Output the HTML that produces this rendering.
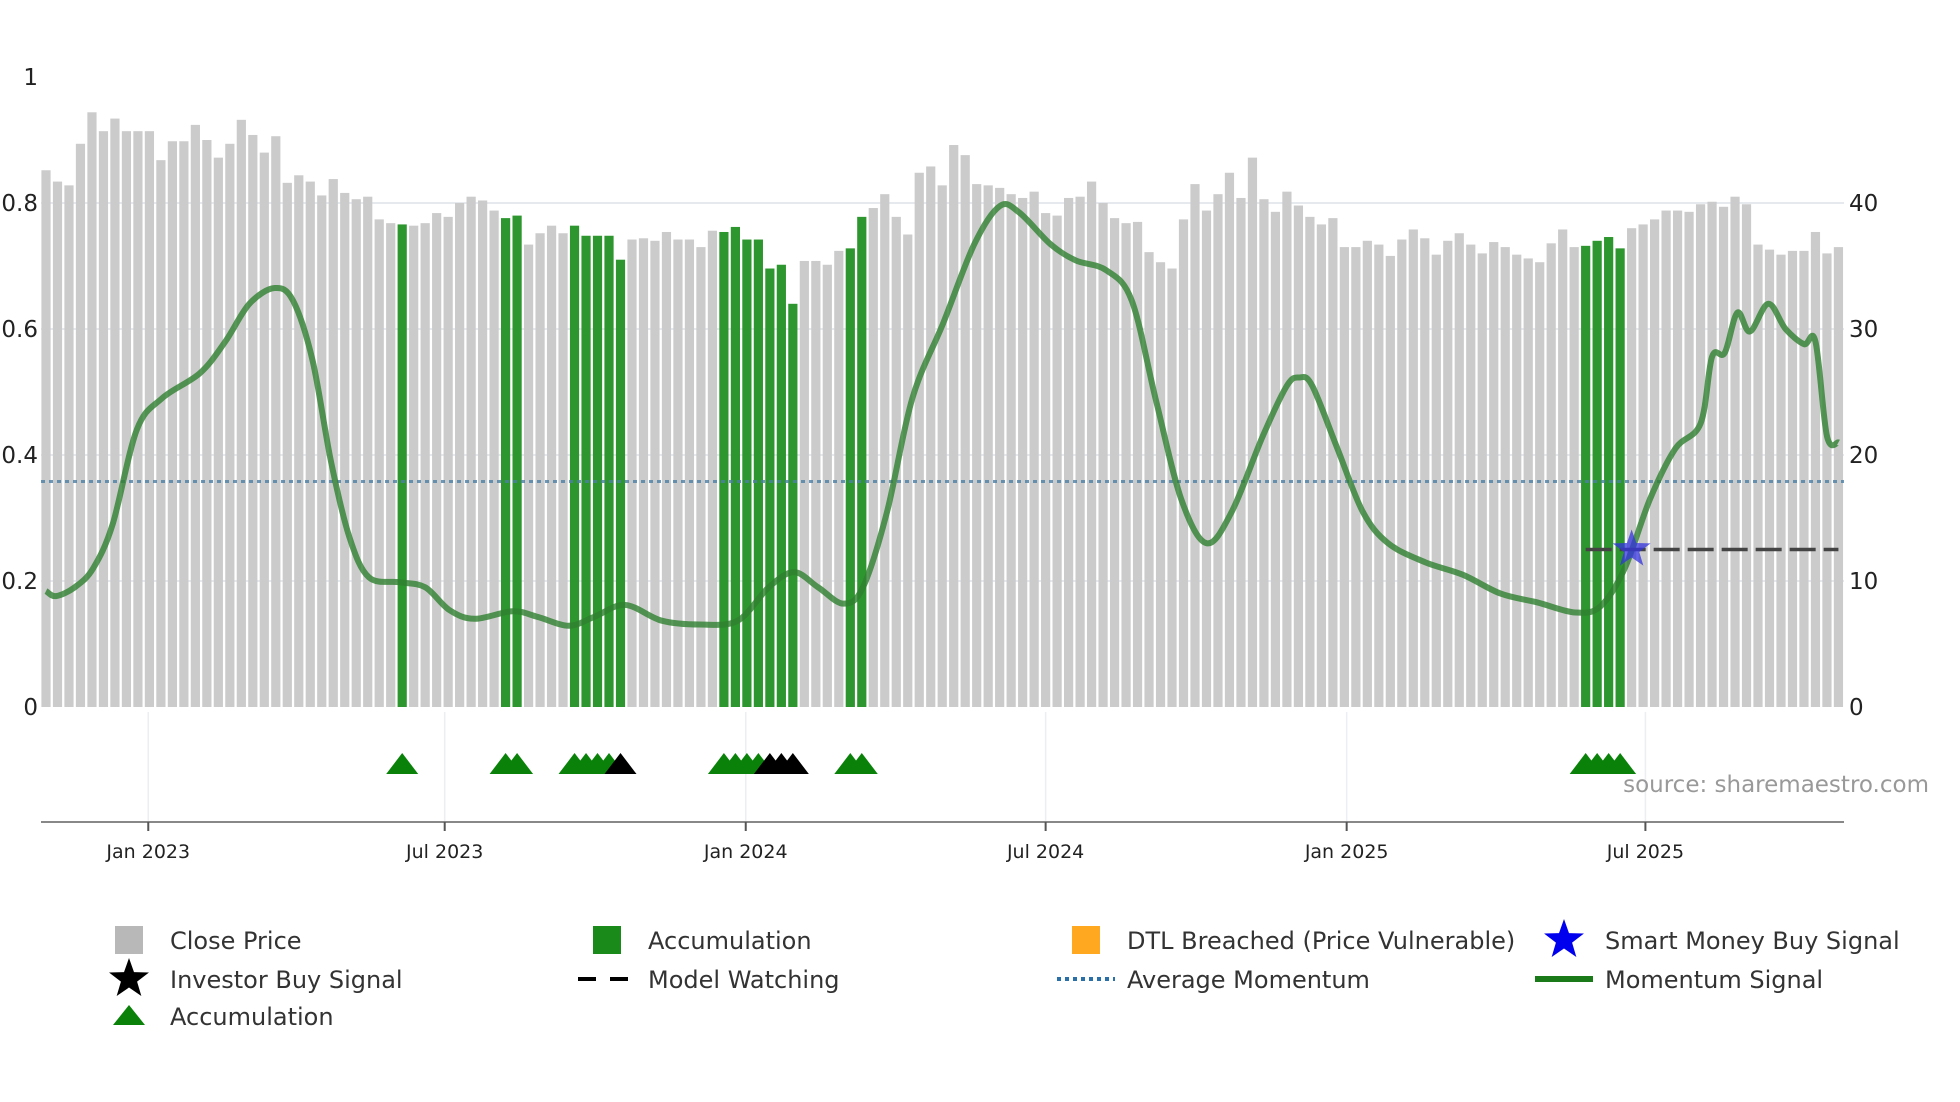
<!DOCTYPE html>
<html><head><meta charset="utf-8"><style>
html,body{margin:0;padding:0;background:#fff;width:1960px;height:1102px;overflow:hidden}
svg text{font-family:"DejaVu Sans","Liberation Sans",sans-serif}
</style></head><body>
<svg id="chart" width="1960" height="1102" viewBox="0 0 1960 1102" xmlns="http://www.w3.org/2000/svg">
<g id="grid"></g>
<g id="bars"></g>
<g id="lines"></g>
<g id="axes"></g>
<g id="markers"></g>
<text x="1929" y="792" text-anchor="end" font-size="23" fill="#999">source: sharemaestro.com</text>
<g id="legend"></g>
</svg>
<script>
const prices=[42.6,41.7,41.4,44.7,47.2,45.7,46.7,45.7,45.7,45.7,43.4,44.9,44.9,46.2,45,43.6,44.7,46.6,45.4,44,45.3,41.6,42.2,41.7,40.6,41.9,40.8,40.3,40.5,38.7,38.4,38.3,38.2,38.4,39.2,38.9,40,40.5,40.2,39.4,38.8,39,36.7,37.6,38.2,37.6,38.2,37.4,37.4,37.4,35.5,37.1,37.2,37,37.7,37.1,37.1,36.5,37.8,37.7,38.1,37.1,37.1,34.8,35.1,32,35.4,35.4,35.1,36.2,36.4,38.9,39.6,40.7,38.9,37.5,42.4,42.9,41.4,44.6,43.8,41.5,41.4,41.2,40.7,40.4,40.9,39.2,39,40.4,40.5,41.7,40,38.8,38.4,38.5,36.1,35.3,34.8,38.7,41.5,39.4,40.7,42.4,40.4,43.6,40.3,39.3,40.9,39.8,38.9,38.3,38.8,36.5,36.5,37,36.7,35.8,37.1,37.9,37.2,35.9,37,37.6,36.7,36,36.9,36.5,35.9,35.6,35.3,36.8,37.9,36.5,36.6,37,37.3,36.4,38,38.3,38.7,39.4,39.4,39.3,39.9,40.1,39.7,40.5,39.9,36.7,36.3,35.9,36.2,36.2,37.7,36,36.5];
const accumBars=[32,41,42,47,48,49,50,51,60,61,62,63,64,65,66,71,72,135,136,137,138];
const momIdx=[0,0.87,2.5,4.1,5.8,7.9,10.1,13.4,15.6,17.7,19.9,21.5,23.2,24.8,26.4,28.1,30.8,33,35.1,37.3,40.6,42.8,45.5,47.7,50.4,53.6,56.9,60.2,62.9,65.1,67.2,69.4,71.1,73.2,75.4,78.1,80.8,83,84.7,87.4,89.6,92.3,94.5,96.6,98.8,101,103.2,105.9,108,109.1,110.2,112.4,114.6,116.8,120,123.3,126.6,129.8,133.1,135.3,137.4,139.6,141.8,144,145,146.1,147.2,148.3,149.9,151.4,153,154,155,156];
const momVals=[0.184,0.176,0.19,0.22,0.29,0.44,0.49,0.53,0.58,0.64,0.665,0.645,0.55,0.39,0.27,0.206,0.198,0.19,0.154,0.14,0.152,0.143,0.129,0.143,0.162,0.137,0.131,0.137,0.19,0.214,0.19,0.164,0.19,0.31,0.49,0.61,0.735,0.795,0.785,0.735,0.709,0.693,0.645,0.487,0.33,0.26,0.31,0.43,0.51,0.523,0.51,0.41,0.31,0.26,0.23,0.21,0.18,0.166,0.15,0.16,0.22,0.33,0.41,0.45,0.556,0.562,0.626,0.596,0.64,0.6,0.576,0.58,0.43,0.42];
const avgMomentum=0.358;
const watchStart=134, watchEnd=156, watchLevel=0.25;
const smartBuyIdx=[138];
const accumTriIdx=[31,40,41,46,47,48,49,59,60,61,62,70,71,134,135,136,137];
const investorTriIdx=[50,63,64,65];
const xTickIdx=[8.9,34.7,60.9,87,113.2,139.2];
const xTickLabels=["Jan 2023","Jul 2023","Jan 2024","Jul 2024","Jan 2025","Jul 2025"];
const leftTicks=[0,0.2,0.4,0.6,0.8,1];
const leftTickLabels=["0","0.2","0.4","0.6","0.8","1"];
const rightTicks=[0,10,20,30,40];

const NS="http://www.w3.org/2000/svg";
const X=i=>46+i*11.49;
const YL=v=>707-v*630;
const YR=p=>707-p*12.6;
function mk(tag,attrs,parent,txt){const e=document.createElementNS(NS,tag);for(const k in attrs)e.setAttribute(k,attrs[k]);if(txt!==undefined)e.textContent=txt;parent.appendChild(e);return e;}
const G=id=>document.getElementById(id);

leftTicks.forEach((t,i)=>{if(t===0||t===1)return;const l=mk('line',{x1:41,x2:1844,y1:YL(t),y2:YL(t),stroke:'#e6e9ee','stroke-width':2},G('grid'));

});
xTickIdx.forEach(t=>{const l=mk('line',{x1:X(t),x2:X(t),y1:712,y2:822,stroke:'#eceef2','stroke-width':1.5},G('grid'));

});

prices.forEach((p,i)=>{const acc=accumBars.includes(i+1);
const r=mk('rect',{x:X(i)-4.6,y:YR(p),width:9.2,height:707-YR(p),fill:acc?'#2e962e':'#cbcbcb'},G('bars'));

});

const am=mk('line',{x1:41,x2:1844,y1:YL(avgMomentum),y2:YL(avgMomentum),stroke:'#4a7fa8','stroke-width':3,'stroke-dasharray':'4 4',opacity:0.8},G('lines'));



const pts=momIdx.map((ix,k)=>[X(ix),YL(momVals[k])]);
let d='M'+pts[0][0]+','+pts[0][1];
for(let k=0;k<pts.length-1;k++){const p0=pts[k-1]||pts[k],p1=pts[k],p2=pts[k+1],p3=pts[k+2]||p2;
d+=` C${p1[0]+(p2[0]-p0[0])/6},${p1[1]+(p2[1]-p0[1])/6} ${p2[0]-(p3[0]-p1[0])/6},${p2[1]-(p3[1]-p1[1])/6} ${p2[0]},${p2[1]}`;}
const mp=mk('path',{d:d,fill:'none',stroke:'#2f7f2f','stroke-width':6,opacity:0.8,'stroke-linejoin':'round'},G('lines'));



const mw=mk('line',{x1:X(watchStart),x2:X(watchEnd),y1:YL(watchLevel),y2:YL(watchLevel),stroke:'#444','stroke-width':3.5,'stroke-dasharray':'26 8'},G('lines'));



function star(cx,cy,R,r){let s='';for(let k=0;k<10;k++){const a=-Math.PI/2+k*Math.PI/5,rr=k%2?r:R;s+=(cx+rr*Math.cos(a))+','+(cy+rr*Math.sin(a))+' ';}return s;}
smartBuyIdx.forEach(i=>{const s=mk('polygon',{points:star(X(i),YL(watchLevel),20,8),fill:'#3333dd',opacity:0.75},G('markers'));

});

function tri(i,col){const x=X(i),y=764;const t=mk('polygon',{points:`${x-16},${y+10} ${x},${y-11} ${x+16},${y+10}`,fill:col},G('markers'));return t;}
accumTriIdx.forEach(i=>{const t=tri(i,'#0a820a');

});
investorTriIdx.forEach(i=>{const t=tri(i,'#000');

});

const ax=G('axes');
const al=mk('line',{x1:41,x2:1844,y1:822,y2:822,stroke:'#888','stroke-width':2},ax);


xTickIdx.forEach((t,k)=>{const tk=mk('line',{x1:X(t),x2:X(t),y1:822,y2:831,stroke:'#555','stroke-width':2},ax);


const tl=mk('text',{x:X(t),y:858,'text-anchor':'middle','font-size':19,fill:'#222'},ax,xTickLabels[k]);

});
leftTicks.forEach((t,k)=>{const tl=mk('text',{x:38,y:YL(t)+8,'text-anchor':'end','font-size':23,fill:'#222'},ax,leftTickLabels[k]);

});
rightTicks.forEach(t=>{const tl=mk('text',{x:1849,y:YR(t)+8,'text-anchor':'start','font-size':23,fill:'#222'},ax,String(t));

});

const lg=G('legend');
const items=[
 [129,940,'sq','#b8b8b8','Close Price','legend-close-price'],
 [607,940,'sq','#1a8a1a','Accumulation','legend-accumulation-bar'],
 [1086,940,'sq','#ffa820','DTL Breached (Price Vulnerable)','legend-dtl-breached'],
 [1564,940,'star','#0000ee','Smart Money Buy Signal','legend-smart-money'],
 [129,979,'star','#000','Investor Buy Signal','legend-investor-buy'],
 [607,979,'dash','#000','Model Watching','legend-model-watching'],
 [1086,979,'dot','#2a6fa8','Average Momentum','legend-average-momentum'],
 [1564,979,'line','#1a7a1a','Momentum Signal','legend-momentum-signal'],
 [129,1016,'tri','#0a820a','Accumulation','legend-accumulation-triangle']];
items.forEach(it=>{const [x,y,kind,col,label,name]=it;
const g=mk('g',{},lg);


if(kind==='sq')mk('rect',{x:x-14,y:y-14,width:28,height:28,fill:col},g);
if(kind==='star')mk('polygon',{points:star(x,y,21,8.5),fill:col},g);
if(kind==='tri')mk('polygon',{points:`${x-16},${y+9} ${x},${y-11} ${x+16},${y+9}`,fill:col},g);
if(kind==='dash')mk('line',{x1:x-29,x2:x+29,y1:y,y2:y,stroke:col,'stroke-width':4,'stroke-dasharray':'18 14'},g);
if(kind==='dot')mk('line',{x1:x-29,x2:x+29,y1:y,y2:y,stroke:col,'stroke-width':4,'stroke-dasharray':'4 4'},g);
if(kind==='line')mk('line',{x1:x-29,x2:x+29,y1:y,y2:y,stroke:col,'stroke-width':6},g);
mk('text',{x:x+41,y:y+9,'font-size':24,fill:'#333'},g,label);});
</script>
</body></html>
